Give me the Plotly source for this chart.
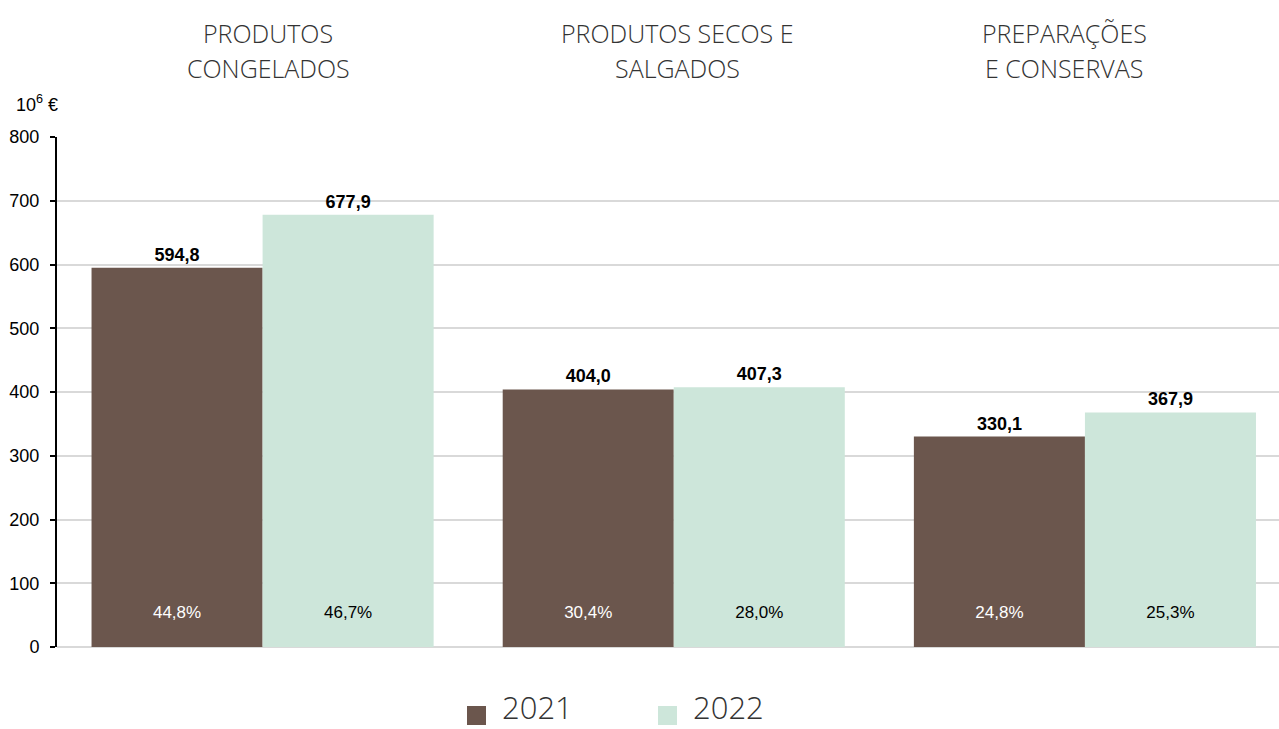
import plotly.graph_objects as go

categories = ["PRODUTOS CONGELADOS", "PRODUTOS SECOS E SALGADOS", "PREPARAÇÕES E CONSERVAS"]
title_lines = [["PRODUTOS", "CONGELADOS"], ["PRODUTOS SECOS E", "SALGADOS"], ["PREPARAÇÕES", "E CONSERVAS"]]
values_2021 = [594.8, 404.0, 330.1]
values_2022 = [677.9, 407.3, 367.9]
share_2021 = ["44,8%", "30,4%", "24,8%"]
share_2022 = ["46,7%", "28,0%", "25,3%"]
y_ticks = [0, 100, 200, 300, 400, 500, 600, 700, 800]

c2021 = "#6B564D"
c2022 = "#CDE6DA"
x = list(range(len(categories)))
bw = 0.416

# plot area in pixels
L, R, T, B = 57, 1279, 137, 647
PW, PH = R - L, B - T


def fmt(v):
    return f"{v:.1f}".replace(".", ",")


def px(xp):
    return (xp - L) / PW


def py(yp):
    return (B - yp) / PH


fig = go.Figure()
for name, vals, col, off in [("2021", values_2021, c2021, -bw / 2), ("2022", values_2022, c2022, bw / 2)]:
    fig.add_trace(go.Bar(
        x=[i + off for i in x], y=vals, width=bw, name=name,
        marker=dict(color=col, line=dict(width=0)),
        text=[fmt(v) for v in vals], textposition="outside",
        textfont=dict(family="Arial", size=18, color="#000000", weight="bold"),
        cliponaxis=False, showlegend=False,
    ))

# share labels near the bottom of each bar
for shares, col, off in [(share_2021, "#FFFFFF", -bw / 2), (share_2022, "#000000", bw / 2)]:
    fig.add_trace(go.Scatter(
        x=[i + off for i in x], y=[52] * len(x), mode="text", text=shares,
        textfont=dict(family="Arial", size=17, color=col), showlegend=False, hoverinfo="skip",
    ))

annotations = []
# category headings above the plot
head_x = [268, 677, 1064]
for hx, lines in zip(head_x, title_lines):
    for k, line in enumerate(lines):
        annotations.append(dict(
            text=line, xref="paper", yref="paper",
            x=px(hx), y=py(33 + k * 35),
            xanchor="center", yanchor="middle", showarrow=False,
            font=dict(family="Open Sans", size=25, color="#333333", weight=300),
        ))

annotations.append(dict(
    text="10<sup>6</sup> €", xref="paper", yref="paper",
    x=px(14), y=py(103), xanchor="left", yanchor="middle", showarrow=False,
    font=dict(family="Arial", size=18, color="#000000"),
))

# legend drawn below the plot
shapes = []
for sx, tx, label, col in [(467, 500, "2021", c2021), (658, 691, "2022", c2022)]:
    shapes.append(dict(
        type="rect", xref="paper", yref="paper",
        x0=px(sx), x1=px(sx + 19), y0=py(706), y1=py(725),
        fillcolor=col, line=dict(width=0),
    ))
    annotations.append(dict(
        text=label, xref="paper", yref="paper",
        x=px(tx), y=py(707),
        xanchor="left", yanchor="middle", showarrow=False,
        font=dict(family="Open Sans", size=31, color="#333333", weight=300),
    ))

fig.update_layout(
    width=1279, height=729,
    margin=dict(l=L, r=1279 - R, t=T, b=729 - B),
    plot_bgcolor="white", paper_bgcolor="white",
    barmode="overlay",
    annotations=annotations, shapes=shapes,
    xaxis=dict(range=[-0.5, 2.472], showticklabels=False, showgrid=False,
               zeroline=False, showline=False, ticks=""),
    yaxis=dict(range=[0, 800], tickvals=y_ticks, showgrid=True, gridcolor="#D9D9D9", gridwidth=2,
               zeroline=True, zerolinecolor="#D9D9D9", zerolinewidth=2,
               showline=True, linecolor="#000000", linewidth=2,
               ticks="outside", ticklen=5, tickcolor="#000000", tickwidth=2,
               ticklabelstandoff=7,
               tickfont=dict(family="Arial", size=18, color="#000000")),
    showlegend=False,
)

fig.write_html("out.html")
